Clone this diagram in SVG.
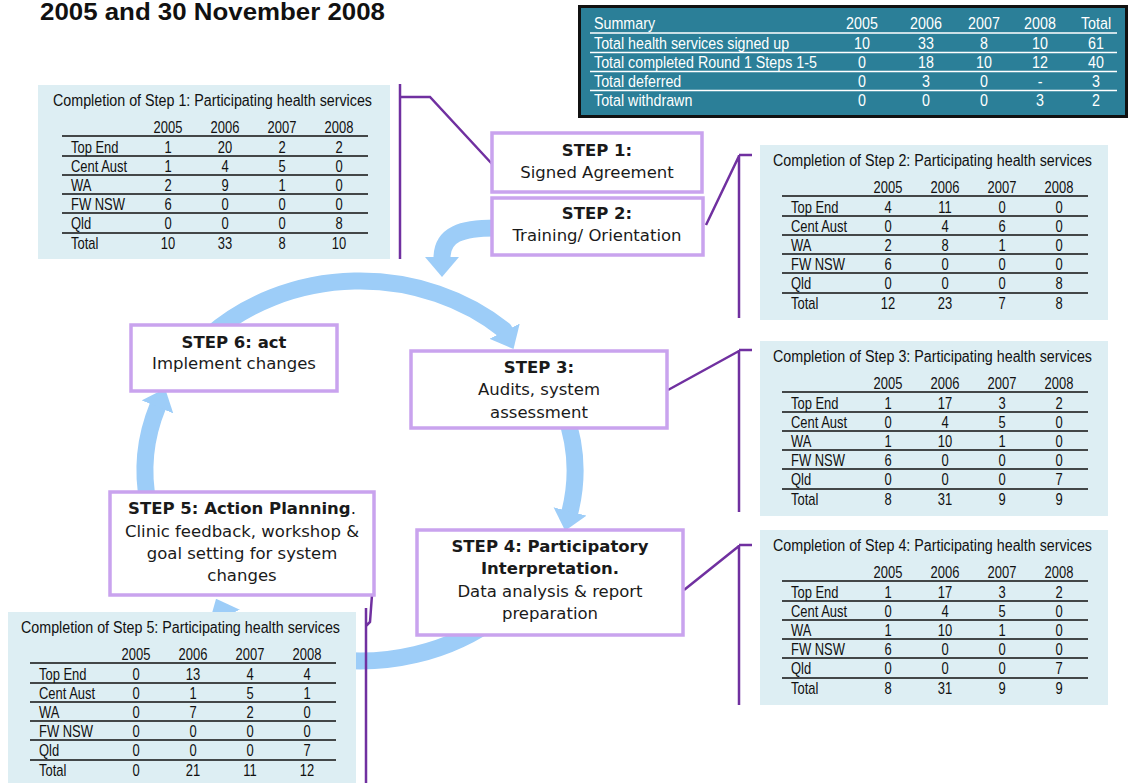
<svg xmlns="http://www.w3.org/2000/svg" width="1132" height="783" viewBox="0 0 1132 783">
<style>
.tbg{fill:#DDEEF3}
.tt,.tn text,.tlab text{font-family:'Liberation Sans',sans-serif;font-size:16px;fill:#111}
.tn text{text-anchor:middle}
.tl{stroke:#111;stroke-width:1.5;fill:none}
.box{fill:#fff;stroke:#C9A3EE;stroke-width:3.5}
.bt{font-family:'DejaVu Sans',sans-serif;font-size:16.5px;fill:#1a1a1a;text-anchor:middle}
.bb{font-weight:bold}
.blue{fill:none;stroke:#9DCDF8;stroke-width:17;stroke-linejoin:round}
.purple{fill:none;stroke:#7030A0;stroke-width:2.5}
.sum text{font-family:'Liberation Sans',sans-serif;font-size:17px;fill:#fff}
.sum .c text{text-anchor:middle}
</style>
<defs>
<marker id="ah" markerUnits="userSpaceOnUse" viewBox="0 0 20 34" markerWidth="20" markerHeight="34" refX="1" refY="17" orient="auto">
<path d="M0,0 L20,17 L0,34 Z" fill="#9DCDF8"/>
</marker>
</defs>
<rect width="1132" height="783" fill="#fff"/>

<text x="40" y="20" font-family="'Liberation Sans',sans-serif" font-weight="bold" font-size="24" fill="#111" textLength="345" lengthAdjust="spacingAndGlyphs">2005 and 30 November 2008</text>

<g id="connectors">
<path class="blue" marker-end="url(#ah)" d="M208,336.6 A215,190 0 0 1 503.9,329.8 L505,332"/>
<path class="blue" marker-end="url(#ah)" d="M564.5,412.3 A215,190 0 0 1 569.8,512.4"/>
<path class="blue" marker-end="url(#ah)" d="M498.2,616.6 A215,190 0 0 1 322.7,658.1 C282.7,651.9 234.5,638.8 224,616"/>
<path class="blue" marker-end="url(#ah)" d="M148.3,504 A215,190 0 0 1 157.9,406"/>
<path class="blue" marker-end="url(#ah)" d="M495,228 C462,228 442,234 442,258"/>
<path class="purple" d="M493,165 L430,97 L400,97 M400,84 V259"/>
<path class="purple" d="M706,225 L739,156 M739,155 H752 M739,155 V318"/>
<path class="purple" d="M668,390 L739,351 M739,350 H752 M739,350 V512"/>
<path class="purple" d="M684,590 L739,546 M739,545 H752 M739,545 V705"/>
<path class="purple" d="M372,595 L370,622 L366,626 M366,608 V783"/>
</g>

<g id="summary-table" class="sum">
<rect x="579.5" y="6.5" width="547" height="110" fill="#2B7F98" stroke="#111" stroke-width="3"/>
<path d="M590,33 H1117 M590,52.5 H1117 M590,71.5 H1117 M590,90.5 H1117" stroke="#fff" stroke-width="1.5" fill="none"/>
<g transform="translate(594,0) scale(0.84,1)">
<text y="29">Summary</text><text y="49">Total health services signed up</text><text y="68">Total completed Round 1 Steps 1-5</text><text y="87">Total deferred</text><text y="106">Total withdrawn</text>
</g>
<g class="c" transform="translate(862,0) scale(0.84,1)"><text y="29">2005</text><text y="49">10</text><text y="68">0</text><text y="87">0</text><text y="106">0</text></g>
<g class="c" transform="translate(926,0) scale(0.84,1)"><text y="29">2006</text><text y="49">33</text><text y="68">18</text><text y="87">3</text><text y="106">0</text></g>
<g class="c" transform="translate(984,0) scale(0.84,1)"><text y="29">2007</text><text y="49">8</text><text y="68">10</text><text y="87">0</text><text y="106">0</text></g>
<g class="c" transform="translate(1040,0) scale(0.84,1)"><text y="29">2008</text><text y="49">10</text><text y="68">12</text><text y="87">-</text><text y="106">3</text></g>
<g class="c" transform="translate(1096,0) scale(0.84,1)"><text y="29">Total</text><text y="49">61</text><text y="68">40</text><text y="87">3</text><text y="106">2</text></g>
</g>

<g id="table-step1" transform="translate(40,85)">
<rect class="tbg" x="-2" y="0" width="352" height="174"/>
<text class="tt" x="13" y="21" textLength="319" lengthAdjust="spacingAndGlyphs">Completion of Step 1: Participating health services</text>
<path class="tl" d="M22 51H328M22 71H328M22 90H328M22 109H328M22 128H328M22 148H328"/>
<g class="tlab" transform="translate(31,0) scale(0.81,1)"><text y="68">Top End</text><text y="87">Cent Aust</text><text y="106">WA</text><text y="125">FW NSW</text><text y="144">Qld</text><text y="164">Total</text></g>
<g class="tn" transform="translate(128,0) scale(0.81,1)"><text y="48">2005</text><text y="68">1</text><text y="87">1</text><text y="106">2</text><text y="125">6</text><text y="144">0</text><text y="164">10</text></g>
<g class="tn" transform="translate(185,0) scale(0.81,1)"><text y="48">2006</text><text y="68">20</text><text y="87">4</text><text y="106">9</text><text y="125">0</text><text y="144">0</text><text y="164">33</text></g>
<g class="tn" transform="translate(242,0) scale(0.81,1)"><text y="48">2007</text><text y="68">2</text><text y="87">5</text><text y="106">1</text><text y="125">0</text><text y="144">0</text><text y="164">8</text></g>
<g class="tn" transform="translate(299,0) scale(0.81,1)"><text y="48">2008</text><text y="68">2</text><text y="87">0</text><text y="106">0</text><text y="125">0</text><text y="144">8</text><text y="164">10</text></g>
</g>

<g id="table-step2" transform="translate(760,145)">
<rect class="tbg" x="0" y="0" width="348" height="175"/>
<text class="tt" x="13" y="21" textLength="319" lengthAdjust="spacingAndGlyphs">Completion of Step 2: Participating health services</text>
<path class="tl" d="M22 51H328M22 71H328M22 90H328M22 109H328M22 128H328M22 148H328"/>
<g class="tlab" transform="translate(31,0) scale(0.81,1)"><text y="68">Top End</text><text y="87">Cent Aust</text><text y="106">WA</text><text y="125">FW NSW</text><text y="144">Qld</text><text y="164">Total</text></g>
<g class="tn" transform="translate(128,0) scale(0.81,1)"><text y="48">2005</text><text y="68">4</text><text y="87">0</text><text y="106">2</text><text y="125">6</text><text y="144">0</text><text y="164">12</text></g>
<g class="tn" transform="translate(185,0) scale(0.81,1)"><text y="48">2006</text><text y="68">11</text><text y="87">4</text><text y="106">8</text><text y="125">0</text><text y="144">0</text><text y="164">23</text></g>
<g class="tn" transform="translate(242,0) scale(0.81,1)"><text y="48">2007</text><text y="68">0</text><text y="87">6</text><text y="106">1</text><text y="125">0</text><text y="144">0</text><text y="164">7</text></g>
<g class="tn" transform="translate(299,0) scale(0.81,1)"><text y="48">2008</text><text y="68">0</text><text y="87">0</text><text y="106">0</text><text y="125">0</text><text y="144">8</text><text y="164">8</text></g>
</g>

<g id="table-step3" transform="translate(760,341)">
<rect class="tbg" x="0" y="0" width="348" height="175"/>
<text class="tt" x="13" y="21" textLength="319" lengthAdjust="spacingAndGlyphs">Completion of Step 3: Participating health services</text>
<path class="tl" d="M22 51H328M22 71H328M22 90H328M22 109H328M22 128H328M22 148H328"/>
<g class="tlab" transform="translate(31,0) scale(0.81,1)"><text y="68">Top End</text><text y="87">Cent Aust</text><text y="106">WA</text><text y="125">FW NSW</text><text y="144">Qld</text><text y="164">Total</text></g>
<g class="tn" transform="translate(128,0) scale(0.81,1)"><text y="48">2005</text><text y="68">1</text><text y="87">0</text><text y="106">1</text><text y="125">6</text><text y="144">0</text><text y="164">8</text></g>
<g class="tn" transform="translate(185,0) scale(0.81,1)"><text y="48">2006</text><text y="68">17</text><text y="87">4</text><text y="106">10</text><text y="125">0</text><text y="144">0</text><text y="164">31</text></g>
<g class="tn" transform="translate(242,0) scale(0.81,1)"><text y="48">2007</text><text y="68">3</text><text y="87">5</text><text y="106">1</text><text y="125">0</text><text y="144">0</text><text y="164">9</text></g>
<g class="tn" transform="translate(299,0) scale(0.81,1)"><text y="48">2008</text><text y="68">2</text><text y="87">0</text><text y="106">0</text><text y="125">0</text><text y="144">7</text><text y="164">9</text></g>
</g>

<g id="table-step4" transform="translate(760,530)">
<rect class="tbg" x="0" y="0" width="348" height="175"/>
<text class="tt" x="13" y="21" textLength="319" lengthAdjust="spacingAndGlyphs">Completion of Step 4: Participating health services</text>
<path class="tl" d="M22 51H328M22 71H328M22 90H328M22 109H328M22 128H328M22 148H328"/>
<g class="tlab" transform="translate(31,0) scale(0.81,1)"><text y="68">Top End</text><text y="87">Cent Aust</text><text y="106">WA</text><text y="125">FW NSW</text><text y="144">Qld</text><text y="164">Total</text></g>
<g class="tn" transform="translate(128,0) scale(0.81,1)"><text y="48">2005</text><text y="68">1</text><text y="87">0</text><text y="106">1</text><text y="125">6</text><text y="144">0</text><text y="164">8</text></g>
<g class="tn" transform="translate(185,0) scale(0.81,1)"><text y="48">2006</text><text y="68">17</text><text y="87">4</text><text y="106">10</text><text y="125">0</text><text y="144">0</text><text y="164">31</text></g>
<g class="tn" transform="translate(242,0) scale(0.81,1)"><text y="48">2007</text><text y="68">3</text><text y="87">5</text><text y="106">1</text><text y="125">0</text><text y="144">0</text><text y="164">9</text></g>
<g class="tn" transform="translate(299,0) scale(0.81,1)"><text y="48">2008</text><text y="68">2</text><text y="87">0</text><text y="106">0</text><text y="125">0</text><text y="144">7</text><text y="164">9</text></g>
</g>

<g id="table-step5" transform="translate(8,612)">
<rect class="tbg" x="0" y="0" width="348" height="175"/>
<text class="tt" x="13" y="21" textLength="319" lengthAdjust="spacingAndGlyphs">Completion of Step 5: Participating health services</text>
<path class="tl" d="M22 51H328M22 71H328M22 90H328M22 109H328M22 128H328M22 148H328"/>
<g class="tlab" transform="translate(31,0) scale(0.81,1)"><text y="68">Top End</text><text y="87">Cent Aust</text><text y="106">WA</text><text y="125">FW NSW</text><text y="144">Qld</text><text y="164">Total</text></g>
<g class="tn" transform="translate(128,0) scale(0.81,1)"><text y="48">2005</text><text y="68">0</text><text y="87">0</text><text y="106">0</text><text y="125">0</text><text y="144">0</text><text y="164">0</text></g>
<g class="tn" transform="translate(185,0) scale(0.81,1)"><text y="48">2006</text><text y="68">13</text><text y="87">1</text><text y="106">7</text><text y="125">0</text><text y="144">0</text><text y="164">21</text></g>
<g class="tn" transform="translate(242,0) scale(0.81,1)"><text y="48">2007</text><text y="68">4</text><text y="87">5</text><text y="106">2</text><text y="125">0</text><text y="144">0</text><text y="164">11</text></g>
<g class="tn" transform="translate(299,0) scale(0.81,1)"><text y="48">2008</text><text y="68">4</text><text y="87">1</text><text y="106">0</text><text y="125">0</text><text y="144">7</text><text y="164">12</text></g>
</g>

<g id="step1">
<rect class="box" x="492" y="133" width="210" height="59"/>
<text class="bt bb" x="597" y="156">STEP 1:</text>
<text class="bt" x="597" y="178">Signed Agreement</text>
</g>
<g id="step2">
<rect class="box" x="492" y="198" width="211" height="57"/>
<text class="bt bb" x="597" y="219">STEP 2:</text>
<text class="bt" x="597" y="241">Training/ Orientation</text>
</g>
<g id="step3">
<rect class="box" x="411" y="351" width="256" height="77"/>
<text class="bt bb" x="539" y="373">STEP 3:</text>
<text class="bt" x="539" y="395">Audits, system</text>
<text class="bt" x="539" y="418">assessment</text>
</g>
<g id="step4">
<rect class="box" x="417" y="530" width="266" height="105"/>
<text class="bt bb" x="550" y="552">STEP 4: Participatory</text>
<text class="bt bb" x="550" y="574">Interpretation.</text>
<text class="bt" x="550" y="597">Data analysis &amp; report</text>
<text class="bt" x="550" y="619">preparation</text>
</g>
<g id="step5">
<rect class="box" x="110" y="492" width="264" height="103"/>
<text class="bt" x="242" y="514"><tspan class="bb">STEP 5: Action Planning</tspan>.</text>
<text class="bt" x="242" y="537">Clinic feedback, workshop &amp;</text>
<text class="bt" x="242" y="559">goal setting for system</text>
<text class="bt" x="242" y="581">changes</text>
</g>
<g id="step6">
<rect class="box" x="131" y="325" width="206" height="66"/>
<text class="bt bb" x="234" y="348">STEP 6: act</text>
<text class="bt" x="234" y="369">Implement changes</text>
</g>
</svg>
